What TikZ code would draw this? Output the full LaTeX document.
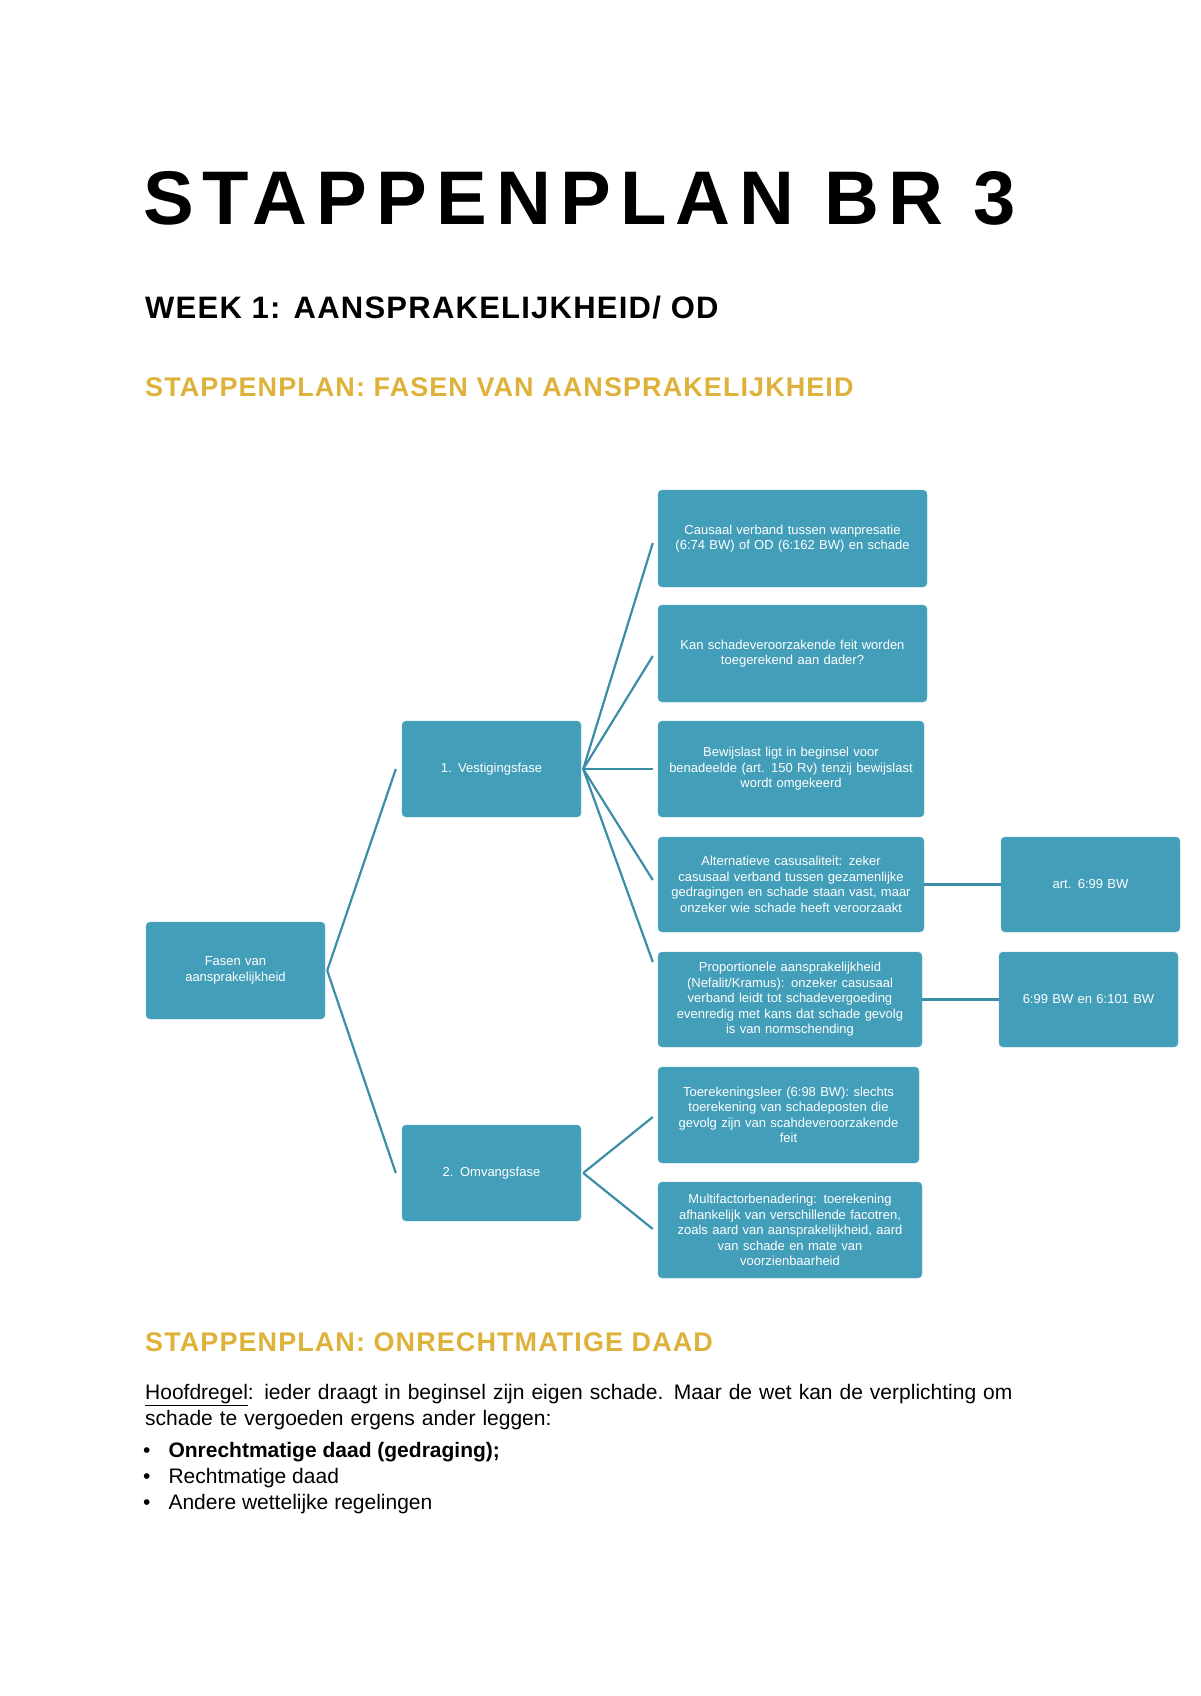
\documentclass[tikz,border=0pt]{standalone}
\usepackage{fontspec}
\setmainfont{Liberation Sans}
\newfontfamily\widefont[LetterSpace=12]{Liberation Sans}
\newfontfamily\medfont[LetterSpace=4]{Liberation Sans}
\definecolor{teal}{RGB}{67,158,185}
\definecolor{gold}{RGB}{222,178,58}
\begin{document}
\begin{tikzpicture}[x=1pt,y=-1pt,
  box/.style={draw=teal!80!white,fill=teal,rounded corners=4pt,text=white,align=center,inner sep=2pt,font=\fontsize{13}{15.5}\selectfont},
  con/.style={draw=teal!90!black,line width=2.2pt}]
\useasboundingbox (0,0) rectangle (1200,1696);
\node[anchor=base west,font=\widefont\bfseries\fontsize{76}{80}\selectfont,inner sep=0] (t1) at (143,225) {STAPPENPLAN BR 3};
\node[anchor=base west,font=\medfont\bfseries\fontsize{31}{34}\selectfont,inner sep=0] (t2) at (145,318) {WEEK 1: AANSPRAKELIJKHEID/ OD};
\node[anchor=base west,font=\medfont\bfseries\fontsize{27}{30}\selectfont,text=gold,inner sep=0] (t3) at (145,396) {STAPPENPLAN: FASEN VAN AANSPRAKELIJKHEID};
% boxes
\node[box,minimum width=179,minimum height=97,text width=170] (f) at (235.5,970.5) {Fasen van\\aansprakelijkheid};
\node[box,minimum width=179,minimum height=96,text width=170] (v) at (491.5,769) {1. Vestigingsfase};
\node[box,minimum width=179,minimum height=96,text width=170] (o) at (491.5,1173) {2. Omvangsfase};
\node[box,minimum width=269,minimum height=97,text width=262] (b1) at (792.5,538.5) {Causaal verband tussen wanpresatie\\(6:74 BW) of OD (6:162 BW) en schade};
\node[box,minimum width=269,minimum height=97,text width=262] (b2) at (792.5,653.5) {Kan schadeveroorzakende feit worden\\toegerekend aan dader?};
\node[box,minimum width=266,minimum height=96,text width=262] (b3) at (791,769) {Bewijslast ligt in beginsel voor\\benadeelde (art. 150 Rv) tenzij bewijslast\\wordt omgekeerd};
\node[box,minimum width=266,minimum height=95,text width=262] (b4) at (791,884.5) {Alternatieve casusaliteit: zeker\\casusaal verband tussen gezamenlijke\\gedragingen en schade staan vast, maar\\onzeker wie schade heeft veroorzaakt};
\node[box,minimum width=264,minimum height=95,text width=258] (b5) at (790,999.5) {Proportionele aansprakelijkheid\\(Nefalit/Kramus): onzeker casusaal\\verband leidt tot schadevergoeding\\evenredig met kans dat schade gevolg\\is van normschending};
\node[box,minimum width=261,minimum height=96,text width=255] (b6) at (788.5,1115) {Toerekeningsleer (6:98 BW): slechts\\toerekening van schadeposten die\\gevolg zijn van scahdeveroorzakende\\feit};
\node[box,minimum width=264,minimum height=96,text width=258] (b7) at (790,1230) {Multifactorbenadering: toerekening\\afhankelijk van verschillende facotren,\\zoals aard van aansprakelijkheid, aard\\van schade en mate van\\voorzienbaarheid};
\node[box,minimum width=179,minimum height=95,text width=172] (r1) at (1090.5,884.5) {art. 6:99 BW};
\node[box,minimum width=179,minimum height=95,text width=172] (r2) at (1088.5,999.5) {6:99 BW en 6:101 BW};
% connectors
\draw[con] ([xshift=2pt]f.east) -- ([xshift=-6pt]v.west);
\draw[con] ([xshift=2pt]f.east) -- ([xshift=-6pt]o.west);
\foreach \b/\y in {b1/543,b2/656,b3/769,b4/880,b5/962}
  \draw[con] ([xshift=2pt]v.east) -- ([xshift=-5pt]\b.west |- 0,\y);
\draw[con] ([xshift=2pt]o.east) -- ([xshift=-5pt]b6.west |- 0,1117);
\draw[con] ([xshift=2pt]o.east) -- ([xshift=-5pt]b7.west |- 0,1229);
\draw[con] (b4.east) -- (r1.west);
\draw[con] (b5.east) -- (r2.west);
% bottom text
\node[anchor=base west,font=\medfont\bfseries\fontsize{27}{30}\selectfont,text=gold,inner sep=0] (t4) at (145,1351) {STAPPENPLAN: ONRECHTMATIGE DAAD};
\node[anchor=north west,inner sep=0,text width=920,font=\fontsize{21}{26}\selectfont,align=left] (p) at (145,1384)
 {\underline{Hoofdregel}: ieder draagt in beginsel zijn eigen schade. Maar de wet kan de verplichting om schade te vergoeden ergens ander leggen:};
\node[anchor=base west,inner sep=0,font=\fontsize{21}{26}\selectfont] (l1) at (143,1457) {\textbullet\hspace{18pt}\textbf{Onrechtmatige daad (gedraging);}};
\node[anchor=base west,inner sep=0,font=\fontsize{21}{26}\selectfont] (l2) at (143,1483) {\textbullet\hspace{18pt}Rechtmatige daad};
\node[anchor=base west,inner sep=0,font=\fontsize{21}{26}\selectfont] (l3) at (143,1509) {\textbullet\hspace{18pt}Andere wettelijke regelingen};
\end{tikzpicture}
\end{document}
